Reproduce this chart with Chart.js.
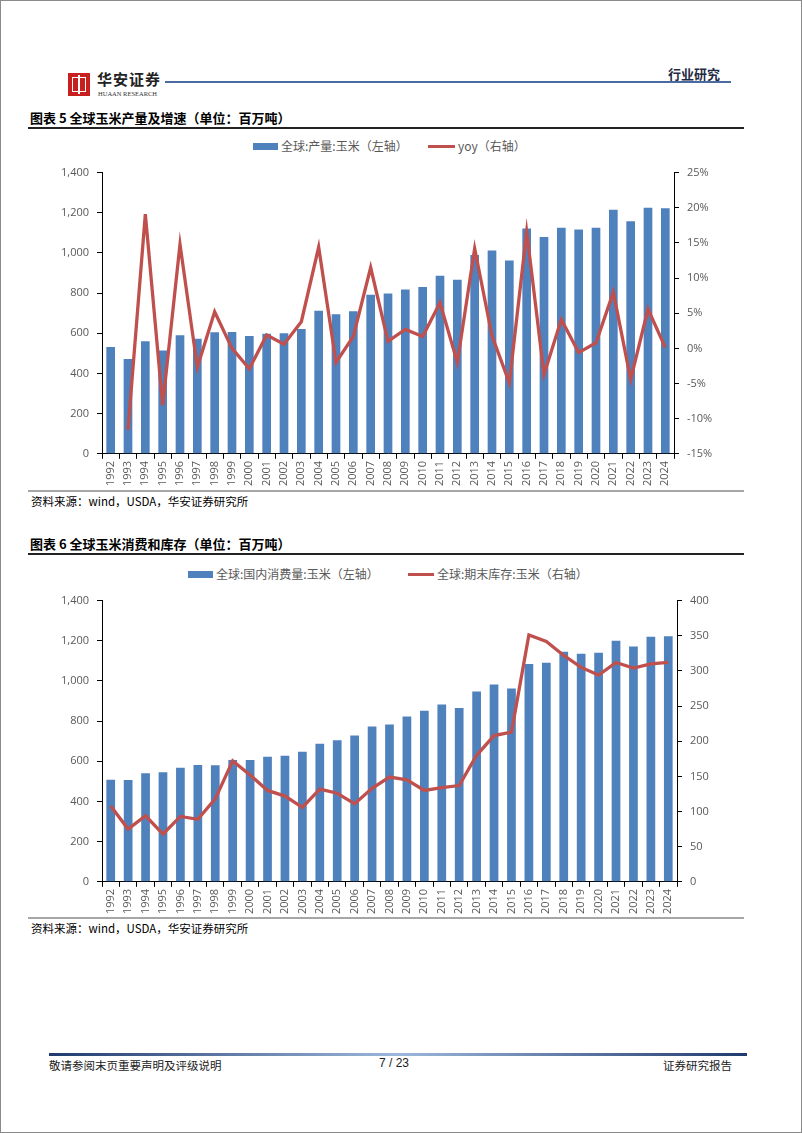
<!DOCTYPE html>
<html>
<head>
<meta charset="utf-8">
<script src="https://cdn.jsdelivr.net/npm/chart.js@4.4.1/dist/chart.umd.min.js"></script>
<style>
  body { margin: 0; background: #fff; }
  #page {
    position: relative; width: 800px; height: 1131px;
    border: 1px solid #8a8a8a; background: #fff; overflow: hidden;
    font-family: "Noto Sans CJK SC", "Noto Sans", sans-serif; color: #000;
  }
  .abs { position: absolute; white-space: nowrap; }
  .title { font-size: 13px; font-weight: bold; left: 29px; }
  .rule { position: absolute; left: 27px; width: 716px; }
  .legend { font-size: 12px; color: #595959; }
  .src { font-size: 11.5px; left: 30px; }
  canvas { position: absolute; }
</style>
</head>
<body>
<div id="page">
  <!-- header -->
  <div class="abs" style="left:67px;top:72px;width:22px;height:23px;background:#c8201f;"></div>
  <div class="abs" style="left:71px;top:76px;width:12px;height:13px;border:1px solid #fff;"></div>
  <div class="abs" style="left:77px;top:74px;width:2px;height:19px;background:#fff;"></div>
  <div class="abs" style="left:96px;top:67px;font-size:15px;font-weight:bold;color:#222;letter-spacing:1px;">华安证券</div>
  <div class="abs" style="left:97px;top:89px;font-size:6.5px;font-family:'Liberation Serif',serif;color:#333;">HUAAN RESEARCH</div>
  <div class="abs" style="left:164px;top:80px;width:566px;height:2px;background:#4a6aa0;"></div>
  <div class="abs" style="left:667px;top:63px;font-size:13px;font-weight:bold;color:#1f2a44;">行业研究</div>

  <!-- chart 5 -->
  <div class="abs title" style="top:107px;">图表 5 全球玉米产量及增速（单位：百万吨）</div>
  <div class="rule" style="top:126px;height:2px;background:#222;"></div>
  <div class="abs" style="left:252px;top:142px;width:25px;height:7px;background:#4f81bd;"></div>
  <div class="abs legend" style="left:280px;top:136px;">全球:产量:玉米（左轴）</div>
  <div class="abs" style="left:427px;top:144px;width:27px;height:3px;background:#c0504d;"></div>
  <div class="abs legend" style="left:457px;top:136px;">yoy（右轴）</div>
  <canvas id="c1" style="left:20px;top:157px;" width="740" height="330"></canvas>
  <div class="rule" style="top:489px;height:2px;background:#a6a6a6;"></div>
  <div class="abs src" style="top:492px;">资料来源：wind，USDA，华安证券研究所</div>

  <!-- chart 6 -->
  <div class="abs title" style="top:533px;">图表 6 全球玉米消费和库存（单位：百万吨）</div>
  <div class="rule" style="top:552px;height:2px;background:#222;"></div>
  <div class="abs" style="left:187px;top:570px;width:25px;height:7px;background:#4f81bd;"></div>
  <div class="abs legend" style="left:215px;top:564px;">全球:国内消费量:玉米（左轴）</div>
  <div class="abs" style="left:407px;top:572px;width:26px;height:3px;background:#c0504d;"></div>
  <div class="abs legend" style="left:436px;top:564px;">全球:期末库存:玉米（右轴）</div>
  <canvas id="c2" style="left:20px;top:585px;" width="740" height="330"></canvas>
  <div class="rule" style="top:916px;height:2px;background:#a6a6a6;"></div>
  <div class="abs src" style="top:919px;">资料来源：wind，USDA，华安证券研究所</div>

  <!-- footer -->
  <div class="abs" style="left:48px;top:1052px;width:698px;height:3px;background:linear-gradient(to right,#1f3a6e,#9db8dc 50%,#1f3a6e);"></div>
  <div class="abs" style="left:48px;top:1056px;font-size:11.5px;color:#222;">敬请参阅末页重要声明及评级说明</div>
  <div class="abs" style="left:378px;top:1055px;font-size:12px;font-family:'Liberation Sans',sans-serif;color:#222;">7 / 23</div>
  <div class="abs" style="left:662px;top:1056px;font-size:11.5px;color:#222;">证券研究报告</div>
</div>

<script>
// data
const years = ['1992','1993','1994','1995','1996','1997','1998','1999','2000','2001','2002',
  '2003','2004','2005','2006','2007','2008','2009','2010','2011','2012','2013','2014','2015',
  '2016','2017','2018','2019','2020','2021','2022','2023','2024']

const production = [532, 472, 560, 515, 590, 573, 605, 607, 587, 598, 600, 622, 712, 695, 710,
  792, 798, 818, 830, 887, 867, 990, 1012, 962, 1122, 1080, 1125, 1117, 1125, 1215, 1158, 1225, 1223]

// yoy in percent, first year has no value
const yoy = [null, -11.6, 19.1, -8.1, 14.8, -2.7, 5.2, 0.0, -2.9, 1.9, 0.6, 3.8, 14.4, -2.0, 1.7,
  11.5, 1.0, 2.7, 1.7, 6.5, -2.0, 14.2, 1.8, -4.9, 16.6, -3.7, 4.1, -0.6, 0.8, 8.0, -4.4, 5.6, 0.1]

const consumption = [508, 507, 540, 545, 568, 582, 580, 607, 607, 623, 628, 647, 687, 705, 728,
  773, 783, 823, 852, 883, 865, 948, 982, 962, 1085, 1090, 1145, 1135, 1140, 1200, 1172, 1220, 1223]

const endingStocks = [108, 75, 94, 68, 93, 89, 118, 172, 152, 130, 122, 106, 132, 126, 111,
  133, 149, 145, 130, 134, 137, 180, 208, 213, 351, 342, 322, 305, 294, 312, 304, 310, 312]

const BLUE = '#4f81bd'
const RED = '#c0504d'
const tickFont = { family: "'Open Sans', 'DejaVu Sans', sans-serif", size: 11 }
const tickColor = '#595959'

function axisX() {
    return {
        grid: { display: true, drawOnChartArea: false, drawTicks: true, tickLength: 5,
            color: '#000', tickColor: '#000', offset: true },
        border: { display: true, color: '#000', width: 1 },
        ticks: { minRotation: 90, maxRotation: 90, autoSkip: false, font: tickFont,
            color: tickColor, padding: 2 },
    }
}

function axisY(pos, min, max, step, fmt, width) {
    return {
        position: pos, min: min, max: max,
        afterFit: (s) => { s.width = width },
        grid: { drawOnChartArea: false, drawTicks: true, tickLength: 5, tickColor: '#000' },
        border: { display: true, color: '#000', width: 1 },
        ticks: { stepSize: step, font: tickFont, color: tickColor, padding: 8, callback: fmt },
    }
}

const commaFmt = (v) => v.toLocaleString('en-US')

function makeChart(id, barData, lineData, rightAxis, rightWidth) {
    return new Chart(document.getElementById(id), {
        type: 'bar',
        data: {
            labels: years,
            datasets: [
                { type: 'line', data: lineData, yAxisID: 'y1', borderColor: RED,
                  borderWidth: 3.3, pointRadius: 0, tension: 0, spanGaps: false, order: 0 },
                { type: 'bar', data: barData, yAxisID: 'y', backgroundColor: BLUE,
                  categoryPercentage: 1, barPercentage: 0.5, order: 1 },
            ],
        },
        options: {
            responsive: false,
            animation: false,
            layout: { padding: { top: 9, left: 0, right: 0, bottom: 0 } },
            plugins: { legend: { display: false }, tooltip: { enabled: false } },
            scales: {
                x: axisX(),
                y: axisY('left', 0, 1400, 200, commaFmt, 81),
                y1: rightAxis(rightWidth),
            },
        },
    })
}

makeChart('c1', production, yoy,
    (w) => axisY('right', -15, 25, 5, (v) => v + '%', w), 87)

makeChart('c2', consumption, endingStocks,
    (w) => axisY('right', 0, 400, 50, commaFmt, w), 84)
</script>
</body>
</html>
